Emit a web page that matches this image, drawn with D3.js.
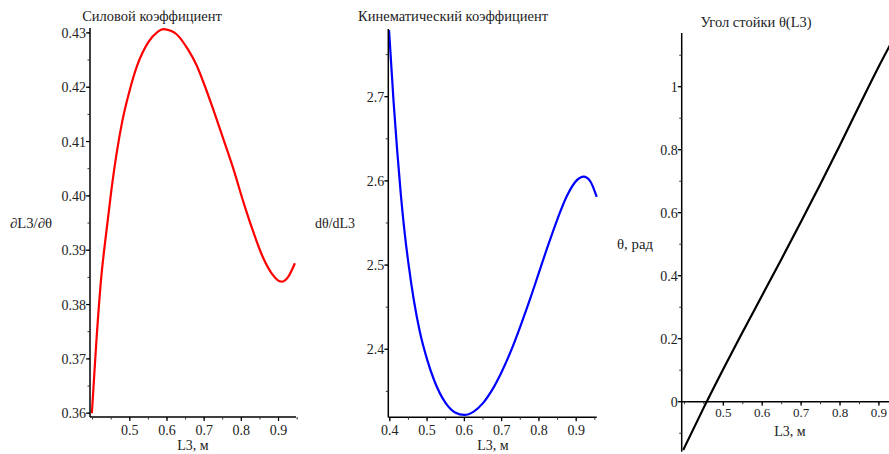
<!DOCTYPE html>
<html><head><meta charset="utf-8">
<script src="https://cdn.jsdelivr.net/npm/d3@7"></script>
<style>
html,body{margin:0;padding:0;background:#fff;}
svg text{font-family:"Liberation Serif","Times New Roman",serif;fill:#222;}
</style></head>
<body><svg id="c" width="889" height="454"></svg>
<script>
// ---- data ----
const forceL = [0.398,0.410,0.423,0.4366,0.450,0.465,0.480,0.500,0.520,0.550,0.575,0.590,0.610,0.625,0.656,0.680,0.697,0.724,0.751,0.778,0.805,0.832,0.8586,0.881,0.908,0.926,0.944];
const forceV = [0.3600,0.3731,0.3848,0.3932,0.4008,0.4080,0.4138,0.4195,0.4240,0.4283,0.4302,0.4307,0.4304,0.4298,0.4270,0.4240,0.4211,0.4160,0.4106,0.4051,0.3990,0.3934,0.3886,0.3858,0.3842,0.3851,0.3876];

const kinL = [0.398,0.410,0.420,0.430,0.440,0.450,0.465,0.480,0.500,0.520,0.550,0.575,0.600,0.625,0.650,0.675,0.700,0.725,0.750,0.775,0.800,0.825,0.850,0.875,0.900,0.920,0.937,0.955];
const kinV = [2.779,2.695,2.635,2.582,2.538,2.502,2.457,2.422,2.388,2.362,2.336,2.325,2.322,2.326,2.336,2.352,2.373,2.398,2.427,2.458,2.491,2.524,2.555,2.582,2.600,2.605,2.600,2.581];

const angL = [0.397,0.450,0.500,0.550,0.600,0.650,0.700,0.750,0.800,0.850,0.900,0.935];
const angV = [-0.153,-0.018,0.104,0.222,0.338,0.454,0.572,0.692,0.815,0.941,1.065,1.147];

const titles = ["Силовой коэффициент","Кинематический коэффициент","Угол стойки θ(L3)"];
const yLabels = ["∂L3/∂θ","dθ/dL3","θ, рад"];
const xLabel = "L3, м";

const xTicks1 = [0.5,0.6,0.7,0.8,0.9];
const xTicks2 = [0.4,0.5,0.6,0.7,0.8,0.9];
const xTicks3 = [0.5,0.6,0.7,0.8,0.9];
const yTicks1 = [0.36,0.37,0.38,0.39,0.40,0.41,0.42,0.43];
const yTicks2 = [2.4,2.5,2.6,2.7];
const yTicks3 = [0,0.2,0.4,0.6,0.8,1];

// ---- layout ----
const svg = d3.select("#c");
const panels = [
  {L:forceL,V:forceV,color:"#ff0000",xd:[0.393,0.947],xr:[90,296],yd:[0.3593,0.4309],yr:[417,28],
   xt:xTicks1,xm:d3.range(0.40,0.951,0.05),yt:yTicks1,ym:d3.range(0.36,0.4305,0.005),
   yfmt:d3.format(".2f"),xAxisAt:null,title:[152,21],ylab:[10,228,42],xlab:[193,450],xtb:435,xfs:14},
  {L:kinL,V:kinV,color:"#0000ff",xd:[0.396,0.955],xr:[388.3,596.7],yd:[2.3192,2.7804],yr:[417.3,29],
   xt:xTicks2,xm:d3.range(0.40,0.951,0.05),yt:yTicks2,ym:d3.range(2.35,2.78,0.05),
   yfmt:d3.format(".1f"),xAxisAt:null,title:[453,21],ylab:[315,228,40],xlab:[493,450],xtb:435,xfs:14},
  {L:angL,V:angV,color:"#000000",xd:[0.393,1.0],xr:[681.7,917.8],yd:[-0.1587,1.1705],yr:[451.7,33],
   xt:xTicks3,xm:d3.range(0.40,1.0,0.05),yt:yTicks3,ym:d3.range(-0.1,1.16,0.1),
   yfmt:d=>d===0?"0":(d===1?"1":d3.format(".1f")(d)),xAxisAt:0,title:[756,27],ylab:[617,249,36],xlab:[790,436],xtb:417,xfs:13}
];

panels.forEach((p,i)=>{
  const x = d3.scaleLinear().domain(p.xd).range(p.xr);
  const y = d3.scaleLinear().domain(p.yd).range(p.yr);
  const g = svg.append("g");
  const x0 = p.xr[0];
  const yAxisY = p.xAxisAt===null ? p.yr[0] : y(p.xAxisAt);

  // curve
  const data = p.L.map((l,k)=>[l,p.V[k]]);
  g.append("path").datum(data)
    .attr("d", d3.line().x(d=>x(d[0])).y(d=>y(d[1])).curve(d3.curveMonotoneX))
    .attr("fill","none").attr("stroke",p.color).attr("stroke-width",2.2).attr("stroke-linejoin","round");

  // y axis line
  g.append("line").attr("x1",x0).attr("x2",x0).attr("y1",p.yr[1]).attr("y2",p.yr[0])
    .attr("stroke","#000").attr("stroke-width",1.5);
  // x axis line
  g.append("line").attr("x1",x0).attr("x2",p.xr[1]).attr("y1",yAxisY).attr("y2",yAxisY)
    .attr("stroke","#000").attr("stroke-width",1.5);

  // y minor ticks
  p.ym.forEach(v=>{
    g.append("line").attr("x1",x0-2.5).attr("x2",x0).attr("y1",y(v)).attr("y2",y(v)).attr("stroke","#333").attr("stroke-width",1);
  });
  // y major ticks + labels
  p.yt.forEach(v=>{
    g.append("line").attr("x1",x0-4).attr("x2",x0).attr("y1",y(v)).attr("y2",y(v)).attr("stroke","#000").attr("stroke-width",1.2);
    g.append("text").attr("x",x0-4).attr("y",y(v)+5).attr("text-anchor","end")
      .attr("font-size",14).text(p.yfmt(v));
  });
  // x minor ticks
  p.xm.forEach(v=>{
    g.append("line").attr("x1",x(v)).attr("x2",x(v)).attr("y1",yAxisY).attr("y2",yAxisY+2.5).attr("stroke","#333").attr("stroke-width",1);
  });
  p.xt.forEach(v=>{
    g.append("line").attr("x1",x(v)).attr("x2",x(v)).attr("y1",yAxisY).attr("y2",yAxisY+4).attr("stroke","#000").attr("stroke-width",1.2);
    g.append("text").attr("x",x(v)).attr("y",p.xtb).attr("text-anchor","middle")
      .attr("font-size",p.xfs).text(d3.format(".1f")(v));
  });

  g.append("text").attr("x",p.title[0]).attr("y",p.title[1]).attr("text-anchor","middle")
    .attr("font-size",14.5).text(titles[i]);
  g.append("text").attr("x",p.ylab[0]).attr("y",p.ylab[1]).attr("font-size",14)
    .attr("textLength",p.ylab[2]).attr("lengthAdjust","spacingAndGlyphs").text(yLabels[i]);
  g.append("text").attr("x",p.xlab[0]).attr("y",p.xlab[1]).attr("text-anchor","middle")
    .attr("font-size",14).text(xLabel);
});
</script></body></html>
